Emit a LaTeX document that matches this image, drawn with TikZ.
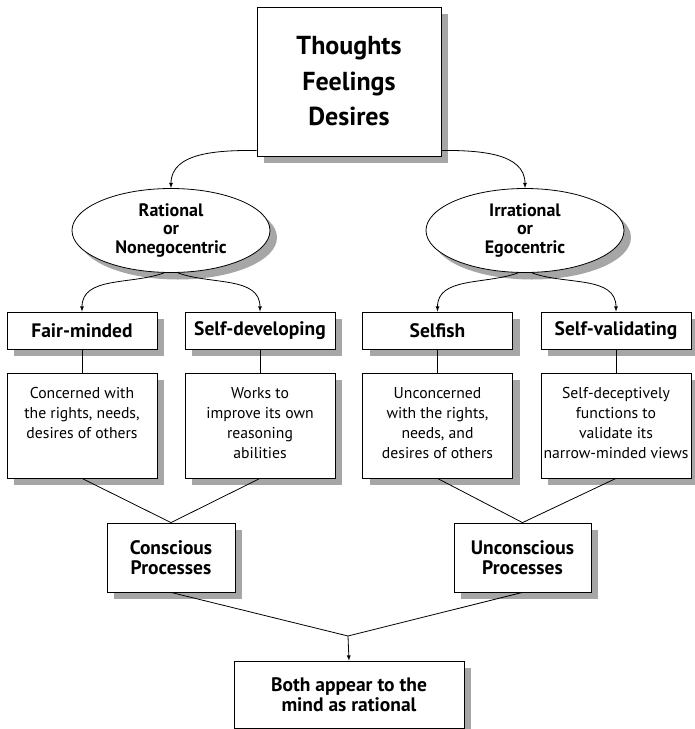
\documentclass[tikz,border=0pt]{standalone}
\usepackage{fontspec}
\setmainfont{PT Sans}
\usepackage{tikz}
\usetikzlibrary{arrows,shapes,positioning,shadows}
\tikzset{
    raw box/.style={draw, thick, fill=white, inner sep=0pt, align=center,
        drop shadow={shadow xshift=7pt, shadow yshift=-7pt, fill=black!35, opacity=1}},
    top box/.style={raw box, minimum width=184pt, minimum height=149pt,
        font=\fontsize{26}{35.5}\selectfont\bfseries},
    mind/.style={raw box, ellipse, minimum width=198pt, minimum height=84pt,
        font=\fontsize{18}{18.5}\selectfont\bfseries},
    trait/.style={raw box, minimum width=150pt, minimum height=37pt,
        font=\fontsize{19.5}{20}\selectfont\bfseries},
    trait text/.style={raw box, font=\fontsize{15.7}{20}\selectfont},
    process/.style={raw box, minimum height=69pt,
        font=\fontsize{19.5}{19.5}\selectfont\bfseries},
    result/.style={raw box, minimum width=230pt, minimum height=67pt,
        font=\fontsize{19.5}{20}\selectfont\bfseries}
}
\newcommand{\toptext}[1]{\parbox[c][105pt][t]{150pt}{\centering\rule{0pt}{25pt}#1}}

\begin{document}
\begin{tikzpicture}[x=1pt, y=-1pt, >=latex, line width=0.8pt]
	\useasboundingbox (0,0) rectangle (695,729);
		% top
		\node[top box] (thoughts) at (349,81.5) {Thoughts\\Feelings\\Desires};
		\node[mind] (rational) at (171,230.5) {Rational\\or\\Nonegocentric};
		\node[mind] (irrational) at (525,230.5) {Irrational\\or\\Egocentric};
		% traits
		\node[trait] (fair) at (82,330.5) {Fair-minded};
		\node[trait] (develop) at (260,330.5) {Self-developing};
		\node[trait] (selfish) at (437.5,330.5) {Selfish};
		\node[trait] (validate) at (616,330.5) {Self-validating};
		\node[trait text] (fairtext) at (82,425.5)
			{\toptext{Concerned with\\the rights, needs,\\desires of others}};
		\node[trait text] (developtext) at (260,425.5)
			{\toptext{Works to\\improve its own\\reasoning\\abilities}};
		\node[trait text] (selfishtext) at (437.5,425.5)
			{\toptext{Unconcerned\\with the rights,\\needs, and\\desires of others}};
		\node[trait text] (validatetext) at (616,425.5)
			{\toptext{Self-deceptively\\functions to\\validate its\\narrow-minded views}};
		% processes
		\node[process, minimum width=128pt] (conscious) at (171,557.5) {Conscious\\Processes};
		\node[process, minimum width=137pt] (unconscious) at (522.5,557.5) {Unconscious\\Processes};
		\node[result] (both) at (349,694.5) {Both appear to the\\mind as rational};
		\coordinate (meet) at (348,636);

		\draw[->] ([yshift=6pt]thoughts.south west) to[out=180,in=90] (rational.north);
		\draw[->] ([yshift=6pt]thoughts.south east) to[out=0,in=90] (irrational.north);
		\draw[->] ([xshift=-7pt]rational.south) to[out=200,in=90] (fair.north);
		\draw[->] ([xshift=7pt]rational.south) to[out=-20,in=90] (develop.north);
		\draw[->] ([xshift=-7pt]irrational.south) to[out=200,in=90] (selfish.north);
		\draw[->] ([xshift=7pt]irrational.south) to[out=-20,in=90] (validate.north);
		\foreach \a in {fair,develop,selfish,validate}
			\draw (\a.south) -- (\a text.north);
		\draw (fairtext.south) -- (conscious.north) -- (developtext.south);
		\draw (selfishtext.south) -- (unconscious.north) -- (validatetext.south);
		\draw (conscious.south) -- (meet) -- (unconscious.south);
		\draw[->] (meet) -- (both.north);
\end{tikzpicture}
\end{document}
